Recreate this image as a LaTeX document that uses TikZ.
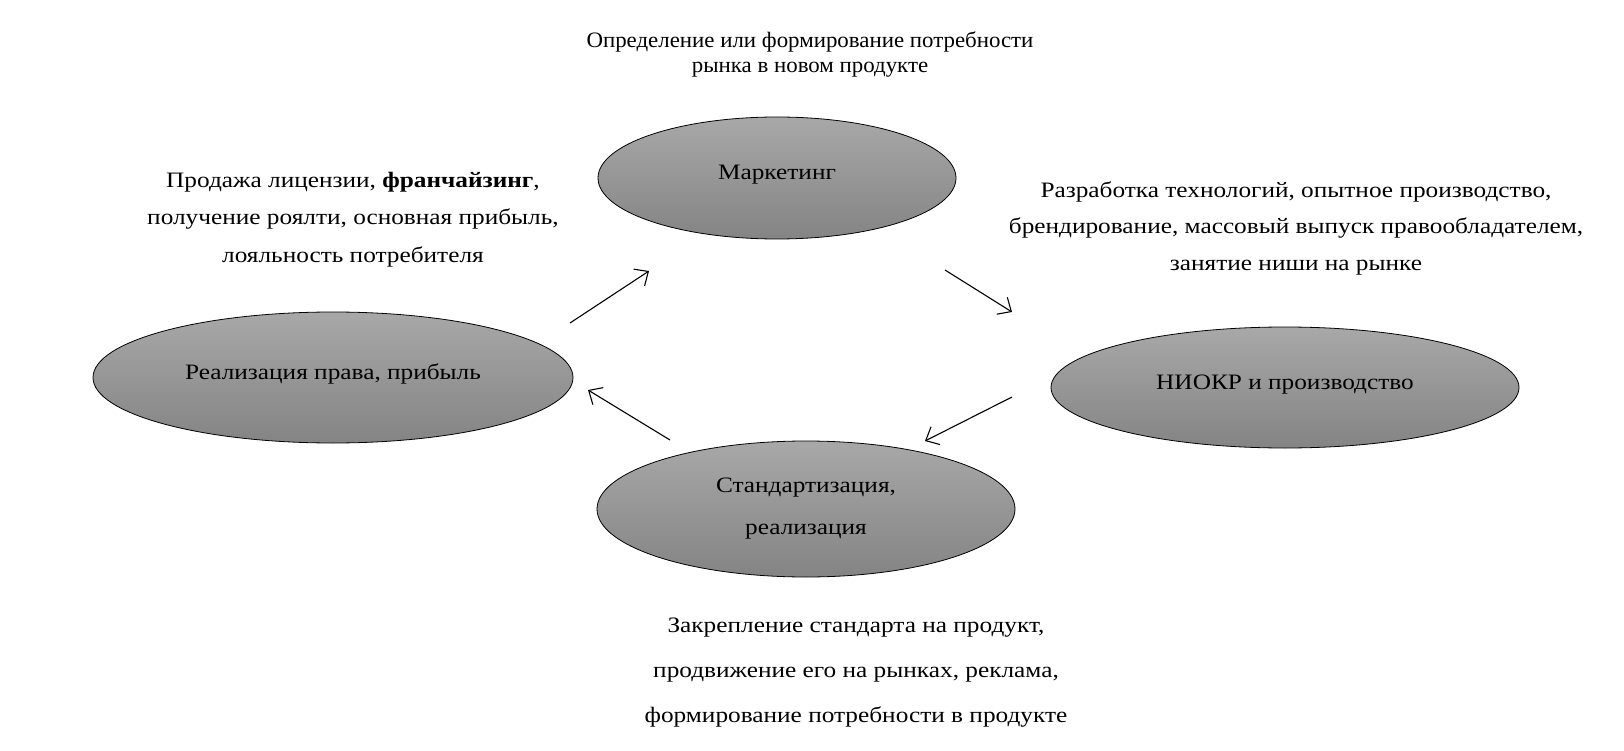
\documentclass[tikz,border=0pt]{standalone}
\usepackage{fontspec}
\setmainfont{Liberation Serif}[FakeStretch=1.15]
\newfontfamily\topfont{Liberation Serif}[FakeStretch=1.04]
\usetikzlibrary{arrows.meta,shapes.geometric}
\definecolor{shtop}{RGB}{168,168,168}
\definecolor{shbot}{RGB}{132,132,132}
\begin{document}
\begin{tikzpicture}[x=1pt,y=-1pt,
  bubble/.style={ellipse, draw=black, line width=0.8pt, top color=shtop, bottom color=shbot,
    inner sep=0pt, outer sep=0pt, font=\fontsize{22}{25}\selectfont},
  oneline/.style={text height=10pt, text depth=6pt},
  txt/.style={anchor=base, inner sep=0pt, font=\fontsize{22}{25}\selectfont},
  toptxt/.style={anchor=base, inner sep=0pt, font=\topfont\fontsize{22}{25}\selectfont},
  flow/.style={line width=1.1pt, -{Straight Barb[length=11pt,width=20pt,line width=1.1pt]}}]
\useasboundingbox (0,0) rectangle (1624,751);

% ellipses
\node[bubble, oneline, minimum width=358, minimum height=122] (mk) at (777,178) {Маркетинг};
\node[bubble, oneline, minimum width=480, minimum height=131] (rp) at (333,377.5) {Реализация права, прибыль};
\node[bubble, oneline, minimum width=468, minimum height=121] (nk) at (1285,387.5) {НИОКР и производство};
\node[bubble, align=center, font=\fontsize{22}{42}\selectfont, minimum width=418, minimum height=136] (st) at (806,509) {Стандартизация,\\реализация};

% arrows
\coordinate (a1s) at (570,323); \coordinate (a1e) at (649,271);
\coordinate (a2s) at (945,270); \coordinate (a2e) at (1012,312);
\coordinate (a3s) at (1012,397); \coordinate (a3e) at (925,441);
\coordinate (a4s) at (670,440); \coordinate (a4e) at (588,390);
\draw[flow] (a1s) -- (a1e);
\draw[flow] (a2s) -- (a2e);
\draw[flow] (a3s) -- (a3e);
\draw[flow] (a4s) -- (a4e);

% texts
\node[toptxt] (t1) at (810,48) {Определение или формирование потребности};
\node[toptxt] (t2) at (810,73) {рынка в новом продукте};

\node[txt] (l1) at (353,188) {Продажа лицензии, \textbf{франчайзинг},};
\node[txt] (l2) at (353,225) {получение роялти, основная прибыль,};
\node[txt] (l3) at (353,262) {лояльность потребителя};

\node[txt] (r1) at (1296,198) {Разработка технологий, опытное производство,};
\node[txt] (r2) at (1296,234) {брендирование, массовый выпуск правообладателем,};
\node[txt] (r3) at (1296,271) {занятие ниши на рынке};

\node[txt] (b1) at (856,632) {Закрепление стандарта на продукт,};
\node[txt] (b2) at (856,677) {продвижение его на рынках, реклама,};
\node[txt] (b3) at (856,722) {формирование потребности в продукте};
\end{tikzpicture}
\end{document}
